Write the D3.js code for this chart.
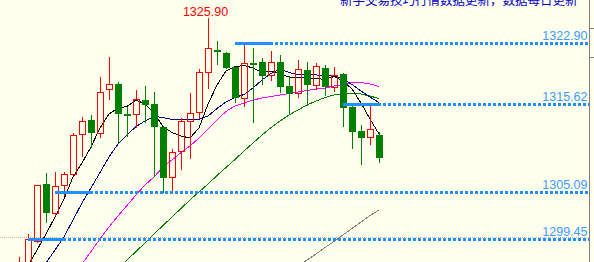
<!DOCTYPE html>
<html><head><meta charset="utf-8">
<script src="https://cdn.jsdelivr.net/npm/d3@7/dist/d3.min.js"></script>
<style>html,body{margin:0;padding:0;background:#FFFFEE;overflow:hidden}svg{display:block}</style>
</head><body><svg id="c" width="594" height="262"></svg>
<script>
// ---- data ----
const categories = d3.range(41);
const opens  = [1295.6,1296.0,1299.28,1306.04,1302.56,1305.92,1307.24,1312.03,1313.74,1312.15,1317.41,1318.05,1314.46,1314.42,1316.13,1315.65,1312.94,1306.95,1310.03,1313.62,1314.66,1319.52,1322.12,1321.80,1320.03,1316.43,1320.60,1320.65,1319.13,1320.65,1317.81,1316.94,1319.73,1317.93,1319.97,1317.65,1319.21,1315.26,1312.42,1311.67,1311.94];
const highs  = [1297.33,1300.09,1305.92,1307.36,1307.47,1307.55,1312.22,1314.13,1314.34,1318.85,1321.32,1318.33,1315.24,1317.33,1317.81,1317.13,1313.00,1310.23,1314.01,1316.94,1319.88,1325.90,1323.20,1321.92,1320.10,1322.78,1322.36,1321.13,1322.04,1321.52,1319.01,1320.92,1320.65,1320.53,1320.33,1320.12,1319.40,1315.53,1313.14,1315.41,1312.34];
const lows   = [1295.0,1295.5,1299.01,1301.44,1302.24,1304.64,1307.10,1309.34,1310.35,1311.55,1316.13,1311.02,1311.70,1312.82,1313.34,1306.95,1305.03,1305.27,1307.75,1309.03,1313.82,1317.41,1320.27,1319.90,1315.81,1315.33,1313.41,1317.93,1318.44,1316.94,1314.46,1316.34,1315.41,1317.33,1316.61,1317.13,1312.94,1310.23,1308.29,1310.74,1308.59];
const closes = [1296.4,1299.45,1305.92,1302.56,1305.87,1307.24,1311.94,1313.65,1312.22,1317.06,1318.05,1314.42,1314.22,1316.22,1315.57,1312.94,1306.83,1309.87,1313.58,1314.54,1319.45,1322.33,1321.85,1320.00,1316.43,1320.53,1320.39,1319.04,1320.65,1317.73,1316.85,1319.81,1317.93,1320.21,1317.65,1319.13,1315.21,1312.34,1311.55,1312.66,1309.15];

const ma5  = [1294.46,1296.31,1298.17,1300.09,1302.12,1304.28,1306.91,1308.59,1310.51,1312.78,1314.46,1315.18,1315.36,1316.13,1315.65,1314.58,1312.96,1312.24,1311.82,1311.58,1312.78,1315.65,1317.93,1319.61,1320.12,1320.27,1319.97,1319.43,1319.61,1319.25,1318.89,1318.83,1318.77,1318.71,1318.59,1318.95,1318.41,1317.45,1315.77,1313.86,1312.06];
const ma10 = [1291.82,1293.44,1295.06,1296.61,1298.17,1299.73,1301.76,1303.80,1305.60,1307.44,1309.31,1310.86,1311.94,1312.96,1313.62,1314.16,1314.04,1313.80,1313.80,1313.74,1313.80,1314.22,1315.12,1315.89,1316.43,1316.79,1317.57,1318.53,1319.31,1319.85,1319.43,1319.19,1319.13,1319.13,1319.07,1319.01,1318.65,1317.99,1317.21,1316.49,1315.83];
const ma20 = [1286.07,1287.63,1289.07,1290.63,1292.06,1293.56,1295.06,1296.49,1297.99,1299.49,1300.92,1302.24,1303.51,1304.76,1305.95,1306.91,1308.11,1308.95,1309.85,1310.63,1311.58,1312.66,1313.74,1314.76,1315.42,1315.77,1316.13,1316.37,1316.55,1316.73,1316.91,1317.09,1317.27,1317.45,1317.57,1317.81,1317.99,1318.23,1318.23,1318.05,1317.75];
const ma30 = [1284.04,1285.12,1286.19,1287.27,1288.35,1289.43,1290.51,1291.58,1292.66,1293.74,1294.82,1295.89,1296.97,1297.99,1299.01,1300.09,1301.10,1302.12,1303.14,1304.16,1305.12,1306.07,1307.09,1308.05,1309.01,1310.03,1310.98,1311.94,1312.84,1313.62,1314.34,1314.94,1315.54,1316.01,1316.43,1316.73,1316.91,1316.91,1316.85,1316.61,1316.31];
const ma60 = [null,null,null,null,null,null,null,null,null,null,null,null,null,null,null,null,null,null,null,null,null,null,null,null,null,null,null,null,null,null,null,1296.25,1296.97,1297.69,1298.47,1299.19,1299.97,1300.75,1301.52,1302.30,1302.96];

const levelValues = [1322.90, 1315.62, 1305.09, 1299.45];
const levelStart  = [24, 36, 4, 1];
const levelLabels = ["1322.90", "1315.62", "1305.09", "1299.45"];
const maxLabel = "1325.90";
const maxIndex = 21;
const refLine = 1299.76;
const axisTicks = [1324.72, 1321.25];
const titleText = "新手交易技巧行情数据更新，数据每日更新";

// ---- drawing ----
const W = 594, H = 262;
const svg = d3.select("#c");
svg.append("rect").attr("width", W).attr("height", H).attr("fill", "#FFFFEE");

const x = d3.scaleLinear().domain([0, 40]).range([19, 379]);
const y = d3.scaleLinear().domain([1296.73, 1328.11]).range([262, 0]);
const cx = i => Math.round(x(i)) + 0.5;
const py = v => Math.round(y(v));

const g = svg.append("g").attr("shape-rendering", "crispEdges");

// reference gray dotted line
g.append("line").attr("x1", 0).attr("x2", 589).attr("y1", py(refLine) + 0.5).attr("y2", py(refLine) + 0.5)
  .attr("stroke", "#BBBBBB").attr("stroke-width", 1).attr("stroke-dasharray", "1,1");

// MA lines
const maSets = [[ma60, "#808080"], [ma30, "#008000"], [ma20, "#FF00FF"], [ma10, "#000080"], [ma5, "#000000"]];
const line = d3.line().defined(d => d[1] != null).x(d => x(d[0])).y(d => y(d[1]));
maSets.forEach(([arr, col]) => {
  g.append("path").attr("d", line(arr.map((v, i) => [i, v])))
    .attr("fill", "none").attr("stroke", col).attr("stroke-width", 1);
});

// candles
categories.forEach(i => {
  const o = opens[i], c = closes[i], h = highs[i], l = lows[i];
  const X = cx(i);
  const up = c >= o;
  const top = py(Math.max(o, c)), bot = py(Math.min(o, c));
  if (up) {
    const col = "#FF0000";
    g.append("line").attr("x1", X).attr("x2", X).attr("y1", py(h)).attr("y2", top).attr("stroke", col);
    g.append("line").attr("x1", X).attr("x2", X).attr("y1", bot).attr("y2", py(l)).attr("stroke", col);
    g.append("rect").attr("x", X - 3).attr("y", top + 0.5).attr("width", 6).attr("height", Math.max(1, bot - top))
      .attr("fill", "none").attr("stroke", col).attr("stroke-width", 1);
  } else {
    const col = "#008000";
    g.append("line").attr("x1", X).attr("x2", X).attr("y1", py(h)).attr("y2", py(l)).attr("stroke", col);
    g.append("rect").attr("x", X - 3.5).attr("y", top).attr("width", 7).attr("height", Math.max(2, bot - top))
      .attr("fill", col);
  }
});

// level lines
levelValues.forEach((v, k) => {
  const yy = py(v) + 0.5;
  const xs = cx(levelStart[k]) - 0.5, xe = cx(levelStart[k] + 4) + 1;
  g.append("line").attr("x1", xs).attr("x2", xe).attr("y1", yy).attr("y2", yy)
    .attr("stroke", "#1E90FF").attr("stroke-width", 3);
  g.append("line").attr("x1", xe + 2).attr("x2", 589).attr("y1", yy).attr("y2", yy)
    .attr("stroke", "#1E90FF").attr("stroke-width", 3).attr("stroke-dasharray", "3,2");
  svg.append("text").attr("x", 587.5).attr("y", yy - 3.5).attr("text-anchor", "end")
    .attr("font-family", "Liberation Sans, Arial, sans-serif").attr("font-size", "12.5px")
    .attr("fill", "#3D9BFF").text(levelLabels[k]);
});

// max label
svg.append("text").attr("x", x(maxIndex) - 2.5).attr("y", 15.5).attr("text-anchor", "middle")
  .attr("font-family", "Liberation Sans, Arial, sans-serif").attr("font-size", "12.5px")
  .attr("fill", "#FF0000").text(maxLabel);

// title (clipped at the top, as in the source)
svg.append("text").attr("x", 340).attr("y", 4.5)
  .attr("font-family", "Noto Sans CJK SC, sans-serif").attr("font-size", "12.5px")
  .attr("fill", "#0000CC").text(titleText);

// right axis
const axisG = svg.append("g").attr("shape-rendering", "crispEdges");
axisG.append("line").attr("x1", 589.5).attr("x2", 589.5).attr("y1", 0).attr("y2", H).attr("stroke", "#808080");
axisTicks.forEach(t => {
  axisG.append("line").attr("x1", 590).attr("x2", 594).attr("y1", py(t) + 0.5).attr("y2", py(t) + 0.5).attr("stroke", "#808080");
});
</script></body></html>
